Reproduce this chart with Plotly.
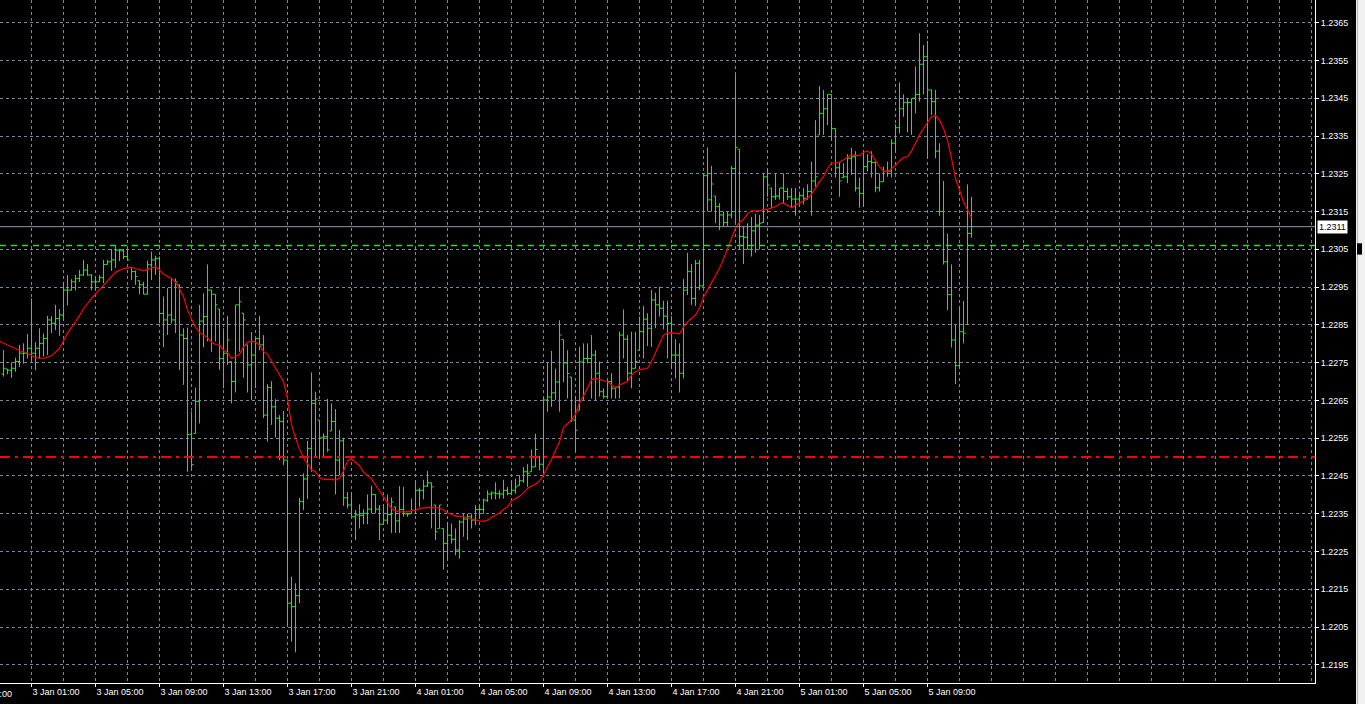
import plotly.graph_objects as go

# ---------------- data (EURUSD-like M15 bars) ----------------
opens = [
    1.22720, 1.22733, 1.22730, 1.22735, 1.22753, 1.22775, 1.22775, 1.22788, 1.22775, 1.22788,
    1.22801, 1.22814, 1.22863, 1.22854, 1.22867, 1.22876, 1.22942, 1.22942, 1.22964, 1.22973,
    1.22982, 1.22995, 1.22982, 1.22964, 1.22964, 1.22975, 1.23010, 1.23017, 1.23022, 1.23048,
    1.23046, 1.23031, 1.23002, 1.22991, 1.22967, 1.22956, 1.22931, 1.23009, 1.23022, 1.23026,
    1.22880, 1.22863, 1.22876, 1.22863, 1.22956, 1.22823, 1.22814, 1.22560, 1.22562, 1.22647,
    1.22860, 1.22872, 1.22942, 1.22931, 1.22892, 1.22761, 1.22775, 1.22753, 1.22700, 1.22903,
    1.22881, 1.22797, 1.22744, 1.22770, 1.22814, 1.22797, 1.22611, 1.22684, 1.22633, 1.22603,
    1.22594, 1.22492, 1.22113, 1.22104, 1.22133, 1.22382, 1.22442, 1.22523, 1.22642, 1.22598,
    1.22551, 1.22554, 1.22569, 1.22594, 1.22492, 1.22543, 1.22392, 1.22373, 1.22342, 1.22347,
    1.22345, 1.22351, 1.22362, 1.22401, 1.22362, 1.22322, 1.22333, 1.22348, 1.22368, 1.22331,
    1.22361, 1.22350, 1.22350, 1.22359, 1.22412, 1.22412, 1.22423, 1.22432, 1.22373, 1.22311,
    1.22311, 1.22271, 1.22293, 1.22282, 1.22254, 1.22328, 1.22336, 1.22342, 1.22333, 1.22361,
    1.22361, 1.22386, 1.22402, 1.22405, 1.22403, 1.22402, 1.22412, 1.22403, 1.22412, 1.22425,
    1.22437, 1.22461, 1.22461, 1.22474, 1.22502, 1.22481, 1.22651, 1.22659, 1.22670, 1.22699,
    1.22811, 1.22749, 1.22712, 1.22598, 1.22624, 1.22752, 1.22761, 1.22761, 1.22770, 1.22722,
    1.22673, 1.22660, 1.22700, 1.22682, 1.22685, 1.22823, 1.22812, 1.22722, 1.22735, 1.22783,
    1.22832, 1.22865, 1.22841, 1.22916, 1.22903, 1.22894, 1.22873, 1.22854, 1.22770, 1.22770,
    1.22722, 1.22942, 1.22991, 1.22920, 1.23013, 1.22953, 1.23245, 1.23181, 1.23191, 1.23163,
    1.23141, 1.23121, 1.23141, 1.23264, 1.23315, 1.23084, 1.23082, 1.23050, 1.23099, 1.23114,
    1.23121, 1.23242, 1.23212, 1.23189, 1.23191, 1.23212, 1.23203, 1.23189, 1.23183, 1.23183,
    1.23192, 1.23185, 1.23203, 1.23231, 1.23353, 1.23410, 1.23422, 1.23460, 1.23370, 1.23266,
    1.23240, 1.23242, 1.23291, 1.23295, 1.23212, 1.23198, 1.23269, 1.23282, 1.23280, 1.23213,
    1.23229, 1.23256, 1.23257, 1.23331, 1.23372, 1.23422, 1.23439, 1.23439, 1.23450, 1.23460,
    1.23540, 1.23560, 1.23472, 1.23441, 1.23310, 1.23150, 1.23017, 1.22930, 1.22810, 1.22742,
    1.22832, 1.22851, 1.23092,
]
highs = [
    1.22783, 1.22733, 1.22751, 1.22763, 1.22797, 1.22801, 1.22826, 1.22920, 1.22804, 1.22841,
    1.22827, 1.22874, 1.22873, 1.22903, 1.22892, 1.22964, 1.22982, 1.22971, 1.22982, 1.22995,
    1.23022, 1.23011, 1.22984, 1.22978, 1.22982, 1.23022, 1.23022, 1.23051, 1.23061, 1.23051,
    1.23051, 1.23051, 1.23002, 1.22994, 1.22967, 1.22964, 1.23020, 1.23044, 1.23033, 1.23031,
    1.22925, 1.22947, 1.22971, 1.22973, 1.22956, 1.22841, 1.22843, 1.22620, 1.22684, 1.22903,
    1.22934, 1.23010, 1.22942, 1.22931, 1.22892, 1.22841, 1.22874, 1.22753, 1.22903, 1.22951,
    1.22881, 1.22797, 1.22831, 1.22814, 1.22874, 1.22823, 1.22693, 1.22701, 1.22653, 1.22611,
    1.22622, 1.22492, 1.22183, 1.22166, 1.22392, 1.22457, 1.22543, 1.22724, 1.22673, 1.22598,
    1.22563, 1.22654, 1.22642, 1.22627, 1.22572, 1.22551, 1.22407, 1.22407, 1.22360, 1.22375,
    1.22362, 1.22401, 1.22424, 1.22401, 1.22373, 1.22375, 1.22401, 1.22393, 1.22368, 1.22423,
    1.22421, 1.22352, 1.22390, 1.22437, 1.22419, 1.22440, 1.22463, 1.22432, 1.22373, 1.22373,
    1.22311, 1.22328, 1.22324, 1.22311, 1.22333, 1.22350, 1.22350, 1.22350, 1.22373, 1.22373,
    1.22390, 1.22412, 1.22409, 1.22433, 1.22412, 1.22440, 1.22421, 1.22437, 1.22443, 1.22452,
    1.22474, 1.22481, 1.22520, 1.22562, 1.22502, 1.22655, 1.22750, 1.22781, 1.22734, 1.22862,
    1.22811, 1.22783, 1.22712, 1.22662, 1.22792, 1.22801, 1.22801, 1.22823, 1.22783, 1.22753,
    1.22682, 1.22704, 1.22722, 1.22686, 1.22832, 1.22891, 1.22823, 1.22832, 1.22832, 1.22872,
    1.22900, 1.22881, 1.22942, 1.22935, 1.22951, 1.22914, 1.22914, 1.22873, 1.22812, 1.22801,
    1.22971, 1.23041, 1.23011, 1.23022, 1.23022, 1.23251, 1.23320, 1.23271, 1.23191, 1.23172,
    1.23150, 1.23150, 1.23271, 1.23514, 1.23315, 1.23112, 1.23119, 1.23136, 1.23144, 1.23141,
    1.23251, 1.23264, 1.23212, 1.23251, 1.23212, 1.23251, 1.23212, 1.23212, 1.23212, 1.23203,
    1.23212, 1.23222, 1.23282, 1.23392, 1.23482, 1.23472, 1.23460, 1.23460, 1.23370, 1.23282,
    1.23278, 1.23302, 1.23319, 1.23310, 1.23240, 1.23310, 1.23302, 1.23310, 1.23282, 1.23251,
    1.23269, 1.23282, 1.23341, 1.23381, 1.23492, 1.23460, 1.23448, 1.23450, 1.23534, 1.23622,
    1.23591, 1.23602, 1.23472, 1.23472, 1.23331, 1.23231, 1.23092, 1.23010, 1.22851, 1.22898,
    1.22913, 1.23222, 1.23189,
]
lows = [
    1.22713, 1.22719, 1.22710, 1.22726, 1.22739, 1.22748, 1.22761, 1.22753, 1.22730, 1.22761,
    1.22766, 1.22770, 1.22828, 1.22836, 1.22821, 1.22860, 1.22901, 1.22941, 1.22941, 1.22964,
    1.22980, 1.22980, 1.22942, 1.22942, 1.22964, 1.22960, 1.23010, 1.22993, 1.23001, 1.23019,
    1.23024, 1.23022, 1.22969, 1.22956, 1.22931, 1.22931, 1.22931, 1.22969, 1.22982, 1.22854,
    1.22791, 1.22823, 1.22854, 1.22828, 1.22730, 1.22691, 1.22461, 1.22470, 1.22562, 1.22589,
    1.22790, 1.22806, 1.22779, 1.22806, 1.22731, 1.22682, 1.22744, 1.22642, 1.22671, 1.22779,
    1.22710, 1.22671, 1.22651, 1.22682, 1.22783, 1.22603, 1.22541, 1.22585, 1.22552, 1.22492,
    1.22479, 1.22051, 1.22011, 1.21983, 1.22113, 1.22360, 1.22389, 1.22461, 1.22498, 1.22497,
    1.22501, 1.22514, 1.22569, 1.22401, 1.22452, 1.22371, 1.22364, 1.22342, 1.22280, 1.22311,
    1.22322, 1.22322, 1.22351, 1.22351, 1.22280, 1.22322, 1.22322, 1.22299, 1.22299, 1.22299,
    1.22342, 1.22342, 1.22350, 1.22350, 1.22368, 1.22388, 1.22421, 1.22311, 1.22280, 1.22311,
    1.22202, 1.22225, 1.22271, 1.22240, 1.22231, 1.22289, 1.22280, 1.22311, 1.22320, 1.22337,
    1.22350, 1.22381, 1.22388, 1.22388, 1.22390, 1.22390, 1.22399, 1.22399, 1.22403, 1.22425,
    1.22432, 1.22421, 1.22461, 1.22474, 1.22465, 1.22456, 1.22620, 1.22633, 1.22651, 1.22620,
    1.22699, 1.22655, 1.22593, 1.22514, 1.22624, 1.22651, 1.22748, 1.22655, 1.22651, 1.22660,
    1.22655, 1.22655, 1.22655, 1.22655, 1.22655, 1.22761, 1.22700, 1.22682, 1.22735, 1.22783,
    1.22761, 1.22794, 1.22792, 1.22841, 1.22872, 1.22838, 1.22761, 1.22735, 1.22708, 1.22671,
    1.22708, 1.22929, 1.22903, 1.22900, 1.22942, 1.22951, 1.23150, 1.23150, 1.23119, 1.23101,
    1.23110, 1.23112, 1.23132, 1.23119, 1.23050, 1.23011, 1.23050, 1.23031, 1.23041, 1.23050,
    1.23121, 1.23189, 1.23159, 1.23181, 1.23182, 1.23172, 1.23181, 1.23159, 1.23139, 1.23172,
    1.23169, 1.23181, 1.23139, 1.23216, 1.23353, 1.23353, 1.23379, 1.23337, 1.23240, 1.23189,
    1.23240, 1.23225, 1.23247, 1.23203, 1.23160, 1.23163, 1.23256, 1.23240, 1.23201, 1.23203,
    1.23229, 1.23242, 1.23240, 1.23309, 1.23357, 1.23401, 1.23360, 1.23353, 1.23410, 1.23441,
    1.23460, 1.23291, 1.23406, 1.23291, 1.23139, 1.23010, 1.22889, 1.22790, 1.22693, 1.22733,
    1.22801, 1.22851, 1.23081,
]
closes = [
    1.22735, 1.22730, 1.22735, 1.22753, 1.22775, 1.22775, 1.22788, 1.22775, 1.22788, 1.22801,
    1.22814, 1.22863, 1.22854, 1.22867, 1.22876, 1.22942, 1.22942, 1.22964, 1.22973, 1.22982,
    1.22995, 1.22982, 1.22964, 1.22964, 1.22975, 1.23010, 1.23017, 1.23022, 1.23048, 1.23046,
    1.23031, 1.23022, 1.22991, 1.22978, 1.22956, 1.22931, 1.23009, 1.23022, 1.23026, 1.22880,
    1.22863, 1.22876, 1.22863, 1.22964, 1.22823, 1.22814, 1.22560, 1.22480, 1.22647, 1.22860,
    1.22872, 1.22942, 1.22931, 1.22903, 1.22761, 1.22775, 1.22810, 1.22700, 1.22903, 1.22911,
    1.22863, 1.22744, 1.22770, 1.22814, 1.22797, 1.22611, 1.22684, 1.22633, 1.22603, 1.22594,
    1.22492, 1.22113, 1.22104, 1.22133, 1.22382, 1.22442, 1.22523, 1.22642, 1.22654, 1.22551,
    1.22554, 1.22519, 1.22594, 1.22492, 1.22543, 1.22392, 1.22373, 1.22342, 1.22347, 1.22345,
    1.22351, 1.22362, 1.22401, 1.22362, 1.22322, 1.22333, 1.22348, 1.22381, 1.22331, 1.22361,
    1.22350, 1.22349, 1.22359, 1.22412, 1.22412, 1.22423, 1.22432, 1.22421, 1.22302, 1.22373,
    1.22271, 1.22293, 1.22282, 1.22254, 1.22328, 1.22336, 1.22342, 1.22333, 1.22361, 1.22361,
    1.22386, 1.22402, 1.22405, 1.22403, 1.22402, 1.22412, 1.22403, 1.22412, 1.22421, 1.22437,
    1.22461, 1.22457, 1.22474, 1.22520, 1.22481, 1.22651, 1.22659, 1.22670, 1.22699, 1.22823,
    1.22749, 1.22721, 1.22598, 1.22571, 1.22752, 1.22761, 1.22761, 1.22770, 1.22722, 1.22673,
    1.22660, 1.22700, 1.22682, 1.22685, 1.22823, 1.22812, 1.22722, 1.22735, 1.22753, 1.22832,
    1.22865, 1.22841, 1.22916, 1.22903, 1.22894, 1.22873, 1.22854, 1.22770, 1.22770, 1.22722,
    1.22942, 1.22991, 1.22920, 1.23013, 1.22953, 1.23245, 1.23181, 1.23223, 1.23163, 1.23141,
    1.23121, 1.23141, 1.23264, 1.23320, 1.23084, 1.23082, 1.23050, 1.23099, 1.23114, 1.23119,
    1.23242, 1.23220, 1.23189, 1.23191, 1.23212, 1.23203, 1.23189, 1.23183, 1.23183, 1.23192,
    1.23185, 1.23203, 1.23231, 1.23242, 1.23410, 1.23422, 1.23460, 1.23370, 1.23266, 1.23231,
    1.23242, 1.23291, 1.23295, 1.23212, 1.23198, 1.23269, 1.23282, 1.23280, 1.23213, 1.23229,
    1.23256, 1.23257, 1.23331, 1.23372, 1.23422, 1.23439, 1.23439, 1.23450, 1.23460, 1.23540,
    1.23560, 1.23472, 1.23441, 1.23310, 1.23150, 1.23017, 1.22930, 1.22810, 1.22742, 1.22832,
    1.22828, 1.23092, 1.23110,
]

# moving average (red line), read at these bar numbers
ma_bars = ([-1, 0, 2, 4, 6, 8, 10, 12, 14, 16, 18, 20, 22, 24, 26, 28, 30, 32, 34, 35, 36,
            38, 39, 40, 42, 43, 44, 45, 46] + list(range(47, 243)))
ma_values = [
    1.22806, 1.22801, 1.22790, 1.22782, 1.22775, 1.22763, 1.22761, 1.22768, 1.22788, 1.22828,
    1.22858, 1.22892, 1.22920, 1.22944, 1.22966, 1.22989, 1.22999, 1.23002, 1.22996, 1.22993,
    1.22997, 1.23004, 1.22995, 1.22984, 1.22973, 1.22963, 1.22945, 1.22925, 1.22889,
    1.22865, 1.22843, 1.22830,
    1.22823, 1.22816, 1.22804, 1.22798, 1.22797, 1.22783, 1.22777, 1.22761, 1.22766, 1.22772,
    1.22792, 1.22804, 1.22807, 1.22804, 1.22797, 1.22779, 1.22772, 1.22753, 1.22737, 1.22719,
    1.22700, 1.22655, 1.22585, 1.22551, 1.22521, 1.22498, 1.22483, 1.22466, 1.22461, 1.22445,
    1.22441, 1.22441, 1.22441, 1.22439, 1.22444, 1.22463, 1.22490, 1.22495, 1.22486, 1.22477,
    1.22460, 1.22451, 1.22442, 1.22426, 1.22410, 1.22394, 1.22379, 1.22364, 1.22358, 1.22355,
    1.22355, 1.22355, 1.22358, 1.22359, 1.22364, 1.22366, 1.22366, 1.22366, 1.22366, 1.22365,
    1.22359, 1.22352, 1.22349, 1.22343, 1.22343, 1.22342, 1.22338, 1.22335, 1.22333, 1.22331,
    1.22330, 1.22333, 1.22340, 1.22346, 1.22352, 1.22361, 1.22368, 1.22384, 1.22390, 1.22396,
    1.22405, 1.22417, 1.22423, 1.22428, 1.22437, 1.22452, 1.22474, 1.22493, 1.22518, 1.22540,
    1.22578, 1.22589, 1.22598, 1.22613, 1.22644, 1.22662, 1.22682, 1.22704, 1.22708, 1.22704,
    1.22702, 1.22700, 1.22691, 1.22682, 1.22691, 1.22695, 1.22700, 1.22717, 1.22726, 1.22731,
    1.22732, 1.22735, 1.22753, 1.22775, 1.22797, 1.22823, 1.22828, 1.22829, 1.22828, 1.22826,
    1.22845, 1.22858, 1.22867, 1.22876, 1.22894, 1.22923, 1.22942, 1.22962, 1.22979, 1.23000,
    1.23024, 1.23050, 1.23075, 1.23106, 1.23121, 1.23129, 1.23144, 1.23152, 1.23152, 1.23152,
    1.23156, 1.23156, 1.23159, 1.23163, 1.23170, 1.23172, 1.23166, 1.23160, 1.23167, 1.23172,
    1.23178, 1.23185, 1.23196, 1.23212, 1.23229, 1.23242, 1.23264, 1.23278, 1.23280, 1.23280,
    1.23287, 1.23293, 1.23300, 1.23298, 1.23298, 1.23307, 1.23310, 1.23302, 1.23284, 1.23269,
    1.23257, 1.23256, 1.23263, 1.23272, 1.23284, 1.23293, 1.23295, 1.23310, 1.23331, 1.23353,
    1.23370, 1.23384, 1.23401, 1.23404, 1.23392, 1.23370, 1.23339, 1.23291, 1.23238, 1.23207,
    1.23176, 1.23154, 1.23134,
]

time_labels = ["2 Jan 21:00", "3 Jan 01:00", "3 Jan 05:00", "3 Jan 09:00", "3 Jan 13:00",
               "3 Jan 17:00", "3 Jan 21:00", "4 Jan 01:00", "4 Jan 05:00", "4 Jan 09:00",
               "4 Jan 13:00", "4 Jan 17:00", "4 Jan 21:00", "5 Jan 01:00", "5 Jan 05:00",
               "5 Jan 09:00"]
bid_price = 1.2311
green_level = 1.2306
red_level = 1.2250

# ---------------- layout constants ----------------
W, H = 1365, 704
PLOT_W, PLOT_H = 1315, 683
BAR_PX = 4.0
first_label_bar = -9       # bar number of the first time label (2 Jan 21:00)
bars_per_label = 16        # 4 hours of M15 bars
bars_per_grid = 8          # 2 hours

x0 = -3.5 / BAR_PX
x1 = x0 + PLOT_W / BAR_PX
y_top = 1.237101
y_bot = 1.219018

GREEN = "#00ff00"
GRID = "#778899"
FONT = "Liberation Sans"

bars = list(range(len(closes)))
label_pos = [first_label_bar + bars_per_label * k for k in range(len(time_labels))]
grid_pos = list(range(first_label_bar, int(x1) + 1, bars_per_grid))

fig = go.Figure()
fig.add_trace(go.Ohlc(
    x=bars, open=opens, high=highs, low=lows, close=closes,
    increasing=dict(line=dict(color=GREEN, width=1)),
    decreasing=dict(line=dict(color=GREEN, width=1)),
    tickwidth=0.5, hoverinfo="skip", showlegend=False,
))
fig.add_trace(go.Scatter(
    x=ma_bars, y=ma_values, mode="lines",
    line=dict(color="#ff0000", width=1.2),
    hoverinfo="skip", showlegend=False,
))

shapes = [
    # bid line
    dict(type="line", xref="paper", x0=0, x1=1, yref="y", y0=bid_price, y1=bid_price,
         line=dict(color="#8c9aa8", width=1), layer="above"),
    # green dashed level
    dict(type="line", xref="paper", x0=0, x1=1, yref="y", y0=green_level, y1=green_level,
         line=dict(color="#2ed82e", width=1.5, dash="6px,5px"), layer="above"),
    # red dash-dot level
    dict(type="line", xref="paper", x0=0, x1=1, yref="y", y0=red_level, y1=red_level,
         line=dict(color="#ff0000", width=2, dash="10px,5px,3px,5px"), layer="above"),
    # right window strip
    dict(type="rect", xref="paper", yref="paper",
         x0=1356 / PLOT_W, x1=1370 / PLOT_W, y0=-30 / PLOT_H, y1=1.02,
         fillcolor="#f0f0f0", line=dict(width=0), layer="above"),
    dict(type="line", xref="paper", yref="paper",
         x0=1357.5 / PLOT_W, x1=1357.5 / PLOT_W, y0=-30 / PLOT_H, y1=1.02,
         line=dict(color="#b8b8b8", width=1), layer="above"),
    dict(type="rect", xref="paper", yref="y",
         x0=1357 / PLOT_W, x1=1362 / PLOT_W, y0=green_level - 0.00024, y1=green_level + 0.00006,
         fillcolor="#000000", line=dict(width=0), layer="above"),
]

annotations = [
    dict(text=f"{bid_price:.4f}", xref="paper", x=1.0, xanchor="left", xshift=2,
         yref="y", y=bid_price, yanchor="middle", showarrow=False,
         font=dict(family=FONT, size=9, color="#000000"),
         bgcolor="#ffffff", borderpad=1),
    # the cut-off first time label at the left edge
    dict(text=time_labels[0], xref="paper", x=(label_pos[0] - x0) / (x1 - x0),
         xanchor="left", xshift=-5, yref="paper", y=0, yanchor="top", yshift=-4,
         showarrow=False, font=dict(family=FONT, size=9, color="#ffffff")),
]

fig.update_layout(
    width=W, height=H,
    margin=dict(l=0, r=W - PLOT_W, t=0, b=H - PLOT_H, pad=0),
    paper_bgcolor="#000000", plot_bgcolor="#000000",
    showlegend=False,
    shapes=shapes, annotations=annotations,
    xaxis=dict(
        range=[x0, x1], automargin=False, fixedrange=True,
        rangeslider=dict(visible=False),
        tickmode="array", tickvals=label_pos[1:], ticktext=time_labels[1:],
        ticks="outside", ticklen=3, tickcolor="#ffffff", tickwidth=1,
        ticklabelposition="outside right",
        tickfont=dict(family=FONT, size=9, color="#ffffff"),
        showgrid=True, gridcolor=GRID, gridwidth=1, griddash="3px,3px",
        minor=dict(tickmode="array", tickvals=grid_pos, showgrid=True,
                   gridcolor=GRID, gridwidth=1, griddash="3px,3px", ticks=""),
        showline=True, linecolor="#ffffff", linewidth=1,
        zeroline=False,
    ),
    yaxis=dict(
        range=[y_bot, y_top], side="right", automargin=False, fixedrange=True,
        tick0=1.2195, dtick=0.001, tickformat=".4f",
        ticks="outside", ticklen=3, tickcolor="#ffffff", tickwidth=1,
        tickfont=dict(family=FONT, size=9, color="#ffffff"),
        showgrid=True, gridcolor=GRID, gridwidth=1, griddash="3px,3px",
        showline=True, linecolor="#ffffff", linewidth=1,
        zeroline=False,
    ),
)

fig.write_html(
    "out.html",
    config={"displayModeBar": False, "staticPlot": True},
    post_script="document.body.style.margin='0px'; document.body.style.background='#000000';",
)
